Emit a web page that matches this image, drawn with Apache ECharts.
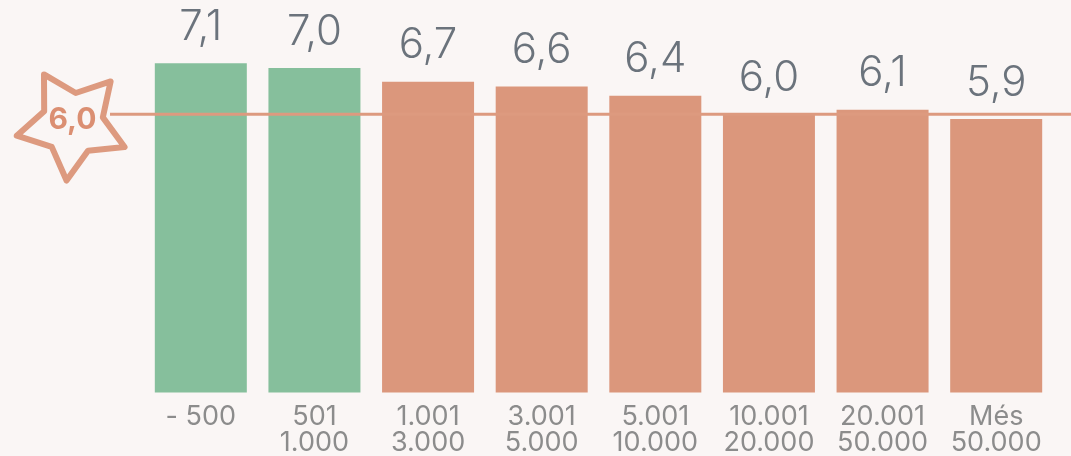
<!DOCTYPE html>
<html>
<head>
<meta charset="utf-8">
<script src="https://cdn.jsdelivr.net/npm/echarts@6/dist/echarts.min.js"></script>
<style>
html,body{margin:0;padding:0;background:#faf6f5;}
#c{width:1071px;height:456px;}
</style>
</head>
<body>
<div id="c"></div>
<script>
const categories = ['- 500', '501\n1.000', '1.001\n3.000', '3.001\n5.000', '5.001\n10.000', '10.001\n20.000', '20.001\n50.000', 'Més\n50.000'];
const values = [7.1, 7.0, 6.7, 6.6, 6.4, 6.0, 6.1, 5.9];
const highlight = [true, true, false, false, false, false, false, false];
const refValue = 6.0;
const refLabel = '6,0';

const GREEN = '#86bf9c';
const ORANGE = '#db977c';
const LINE = '#dd9a7f';

const chart = echarts.init(document.getElementById('c'));
const option = {
  backgroundColor: '#faf6f5',
  animation: false,
  grid: {left: 144, right: 18, top: 21.6, bottom: 63},
  xAxis: {
    type: 'category',
    data: categories,
    axisLine: {show: false},
    axisTick: {show: false},
    axisLabel: {
      color: '#8c8c8c',
      fontFamily: 'Inter',
      fontSize: 27,
      lineHeight: 26,
      margin: 11,
      interval: 0
    }
  },
  yAxis: {type: 'value', min: 0, max: 8, show: false, splitLine: {show: false}},
  series: [{
    type: 'bar',
    barWidth: 92,
    data: values.map((v, i) => ({value: v, itemStyle: {color: highlight[i] ? GREEN : ORANGE}})),
    label: {
      show: true,
      position: 'top',
      distance: 15,
      color: '#6b737c',
      fontFamily: 'Inter',
      fontWeight: 300,
      fontSize: 42,
      formatter: p => p.value.toFixed(1).replace('.', ',')
    }
  }]
};
chart.setOption(option);

function starPoints(cx, cy, R, r, rotDeg) {
  const pts = [];
  for (let i = 0; i < 10; i++) {
    const rad = (i % 2 === 0) ? R : r;
    const a = (rotDeg + i * 36) * Math.PI / 180;
    pts.push([cx + rad * Math.sin(a), cy - rad * Math.cos(a)]);
  }
  return pts;
}

const y0 = chart.convertToPixel({yAxisIndex: 0}, refValue);
const cx = 72.5, cy = y0 + 9.5;
chart.setOption({
  graphic: [
    {
      type: 'line', z: 100,
      shape: {x1: 110, y1: y0, x2: 1071, y2: y0},
      style: {stroke: LINE, lineWidth: 3}
    },
    {
      type: 'polygon', z: 101,
      shape: {points: starPoints(cx, cy, 57, 31, -30)},
      style: {fill: '#faf6f5', stroke: LINE, lineWidth: 6, lineJoin: 'round'}
    },
    {
      type: 'text', z: 102,
      x: cx, y: y0 + 6,
      style: {
        text: refLabel, fill: '#db8f72', fontFamily: 'Inter', fontWeight: 'bold',
        fontSize: 30, align: 'center', verticalAlign: 'middle'
      }
    }
  ]
});
</script>
</body>
</html>
